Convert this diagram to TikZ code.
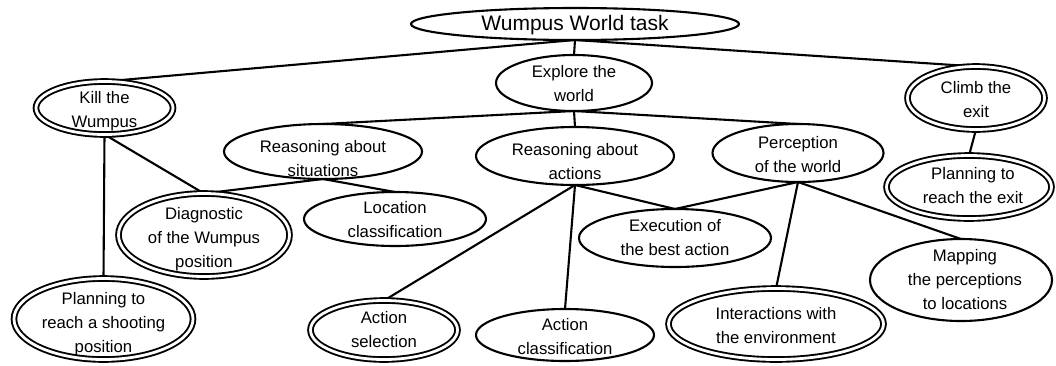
\documentclass[tikz,border=0pt]{standalone}
\usepackage{fontspec}
\setmainfont{Liberation Sans}
\usetikzlibrary{shapes.geometric}
\pgfdeclarelayer{bottom}
\pgfdeclarelayer{background}
\pgfsetlayers{bottom,background,main}
\tikzset{
  goal/.style={ellipse, draw=black, fill=white, line width=2.1pt, inner sep=0pt, outer sep=0pt},
  dgoal/.style={goal, double=white, double distance=2.8pt, line width=1.9pt},
  lab/.style={align=center, inner sep=0pt, font=\fontsize{16.7}{24}\selectfont},
  toplab/.style={align=center, inner sep=0pt, font=\fontsize{21}{24}\selectfont},
  link/.style={line width=2.1pt, draw=black}
}
\begin{document}
\begin{tikzpicture}[x=1pt,y=-1pt]
\useasboundingbox (0,0) rectangle (1056,365);
\begin{pgfonlayer}{bottom}
\fill[white] (0,0) rectangle (1056,365);
\end{pgfonlayer}
% nodes
\node[goal, minimum width=328pt, minimum height=32pt,
  label={[toplab, yshift=-1pt]center:Wumpus World task}] (top) at (575,24) {};
\node[goal, minimum width=156pt, minimum height=56pt,
  label={[lab, yshift=-1pt]center:Explore the\\world}] (explore) at (574,83) {};
\node[dgoal, minimum width=137pt, minimum height=53pt,
  label={[lab, yshift=-3.5pt]center:Kill the\\Wumpus}] (kill) at (104.5,108) {};
\node[dgoal, minimum width=137pt, minimum height=63pt,
  label={[lab, yshift=-2pt]center:Climb the\\exit}] (climb) at (976,98) {};
\node[goal, minimum width=198pt, minimum height=55pt,
  label={[lab, yshift=-7pt]center:Reasoning about\\situations}] (situations) at (323,151.5) {};
\node[goal, minimum width=198pt, minimum height=58pt,
  label={[lab, yshift=-5.5pt]center:Reasoning about\\actions}] (actions) at (575,156) {};
\node[goal, minimum width=171pt, minimum height=58pt,
  label={[lab, yshift=-1.5pt]center:Perception\\of the world}] (perception) at (798,153) {};
\node[dgoal, minimum width=165pt, minimum height=63pt,
  label={[lab, yshift=1pt, xshift=4pt]center:Planning to\\reach the exit}] (planexit) at (969,187) {};
\node[dgoal, minimum width=171pt, minimum height=83pt,
  label={[lab, yshift=-4.5pt]center:Diagnostic\\of the Wumpus\\position}] (diagnostic) at (204,235) {};
\node[goal, minimum width=182pt, minimum height=54pt,
  label={[lab, yshift=-1pt]center:Location\\classification}] (location) at (395,219) {};
\node[dgoal, minimum width=179pt, minimum height=81pt,
  label={[lab, yshift=-5pt]center:Planning to\\reach a shooting\\position}] (shooting) at (103.5,319) {};
\node[dgoal, minimum width=147pt, minimum height=59pt,
  label={[lab]center:Action\\selection}] (selection) at (384,330) {};
\node[goal, minimum width=178pt, minimum height=52pt,
  label={[lab, yshift=-1.5pt]center:Action\\classification}] (classification) at (565,335) {};
\node[goal, minimum width=192pt, minimum height=58pt,
  label={[lab]center:Execution of\\the best action}] (execution) at (675,238) {};
\node[dgoal, minimum width=215pt, minimum height=71pt,
  label={[lab, yshift=-2pt]center:Interactions with\\the environment}] (interactions) at (776,324) {};
\node[goal, minimum width=182pt, minimum height=82pt,
  label={[lab, xshift=4pt]center:Mapping\\the perceptions\\to locations}] (mapping) at (961,280) {};
% connectors
\begin{pgfonlayer}{background}
\draw[link] (top.south) -- (kill.north);
\draw[link] (top.south) -- (explore.north);
\draw[link] (top.south) -- (climb.north);
\draw[link] (explore.south) -- (situations.north);
\draw[link] (explore.south) -- (actions.north);
\draw[link] (explore.south) -- (perception.north);
\draw[link] (kill.south) -- (diagnostic.north);
\draw[link] (kill.south) -- (shooting.north);
\draw[link] (situations.south) -- (diagnostic.north);
\draw[link] (situations.south) -- (location.north);
\draw[link] (actions.south) -- (selection.north);
\draw[link] (actions.south) -- (classification.north);
\draw[link] (actions.south) -- (execution.north);
\draw[link] (perception.south) -- (execution.north);
\draw[link] (perception.south) -- (interactions.north);
\draw[link] (perception.south) -- (mapping.north);
\draw[link] (climb.south) -- (planexit.north);
\end{pgfonlayer}
\end{tikzpicture}
\end{document}
